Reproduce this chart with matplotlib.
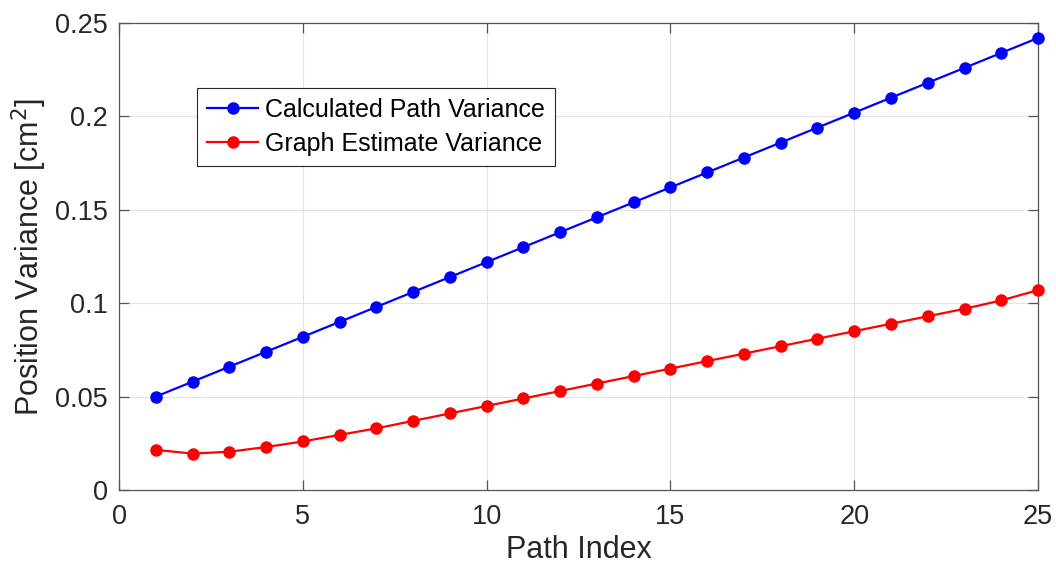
import numpy as np
import matplotlib.pyplot as plt

plt.rcParams['font.family'] = ['Liberation Sans', 'DejaVu Sans']

path_index = list(range(1, 26))
calc_var = [0.050, 0.058, 0.066, 0.074, 0.082, 0.090, 0.098, 0.106, 0.114,
            0.122, 0.130, 0.138, 0.146, 0.154, 0.162, 0.170, 0.178, 0.186,
            0.194, 0.202, 0.210, 0.218, 0.226, 0.234, 0.242]
graph_var = [0.0215, 0.0195, 0.0205, 0.0230, 0.0260, 0.0295, 0.0330, 0.0370,
             0.0410, 0.0450, 0.0490, 0.0530, 0.0570, 0.0610, 0.0650, 0.0690,
             0.0730, 0.0770, 0.0810, 0.0850, 0.0890, 0.0930, 0.0970, 0.1015,
             0.1070]
x_ticks = [0, 5, 10, 15, 20, 25]
y_ticks = [0, 0.05, 0.1, 0.15, 0.2, 0.25]
y_labels = ['0', '0.05', '0.1', '0.15', '0.2', '0.25']

fig = plt.figure(figsize=(10.56, 5.68), dpi=100)
ax = fig.add_axes([0.1127, 0.1373, 0.8703, 0.8222])

ax.plot(path_index, calc_var, '-o', color='#0000ff', lw=1.6, ms=8,
        label='Calculated Path Variance', clip_on=False, zorder=3)
ax.plot(path_index, graph_var, '-o', color='#ff0000', lw=1.6, ms=8,
        label='Graph Estimate Variance', clip_on=False, zorder=3)

ax.set_xlim(0, 25)
ax.set_ylim(0, 0.25)
ax.set_xticks(x_ticks)
ax.set_yticks(y_ticks)
ax.set_yticklabels(y_labels)

ax.grid(True, color='#e3e3e3', lw=0.8)
ax.set_axisbelow(True)
for s in ax.spines.values():
    s.set_color('#555555')
    s.set_linewidth(0.9)
ax.tick_params(direction='in', length=7, width=0.9, color='#555555',
               labelcolor='#262626', labelsize=19.5, top=True, right=True)
ax.tick_params(axis='x', pad=10)
ax.tick_params(axis='y', pad=8)

ax.set_xlabel('Path Index', fontsize=22, color='#262626', labelpad=4)
ax.set_ylabel('Position Variance [cm$^2$]', fontsize=22, color='#262626',
              labelpad=4)

leg = ax.legend(loc='upper left', bbox_to_anchor=(0.0849, 0.861),
                borderaxespad=0, fontsize=18, fancybox=False, framealpha=1,
                edgecolor='#262626', handlelength=2.05, handletextpad=0.26,
                borderpad=0.4, labelspacing=0.4)
leg.get_frame().set_linewidth(0.8)

fig.savefig('out.png', dpi=100)
